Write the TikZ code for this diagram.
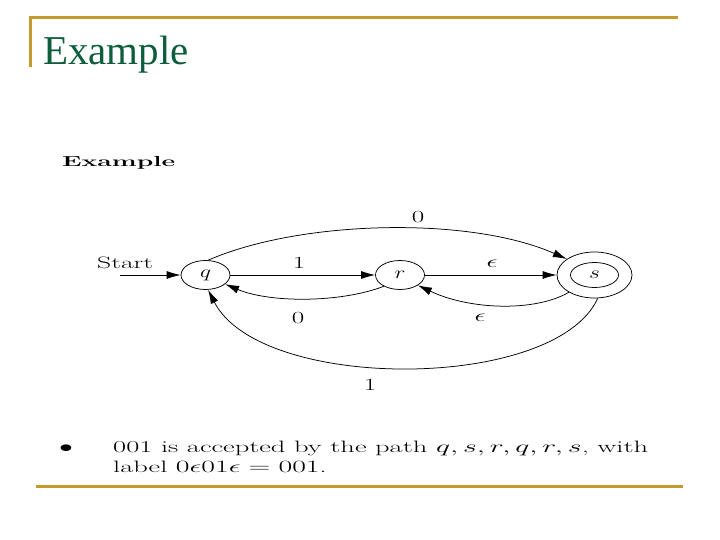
\documentclass[tikz,border=0pt]{standalone}
\usepackage{fontspec}
\usepackage{graphicx}
\newfontfamily\titlefont{Liberation Serif}
\usetikzlibrary{shapes.geometric,arrows.meta}
\definecolor{gold}{RGB}{195,154,43}
\definecolor{titlegreen}{RGB}{12,94,60}
\newcommand{\sx}[1]{\scalebox{1.6}[1]{#1}}
\newcommand{\sxn}[1]{\scalebox{1.35}[1]{#1}}
\tikzset{
  state/.style={ellipse, draw, line width=0.75pt, inner sep=0pt, minimum width=49pt, minimum height=29pt,
    font=\fontsize{17}{20}\selectfont},
  lbl/.style={inner sep=0pt, font=\fontsize{17}{20}\selectfont},
  edge/.style={line width=0.75pt, -{Latex[length=14pt,width=8pt]}},
  rule/.style={gold, line width=3pt}
}
\begin{document}
\begin{tikzpicture}[x=1pt,y=-1pt]
\useasboundingbox (0,0) rectangle (720,540);
% slide frame
\draw[rule] (30,67) -- (30,18) -- (678,18);
\draw[rule] (36,486) -- (683,486);
\node[anchor=base west, inner sep=0pt, text=titlegreen, font=\titlefont\fontsize{41}{48}\selectfont] (title) at (43,65) {Example};
% figure heading
\node[anchor=base west, inner sep=0pt] (ex2) at (62,167) {\resizebox{113pt}{\height}{\fontsize{14.5}{17}\selectfont\bfseries Example}};
% states
\node[state] (q) at (205.5,275) {\sxn{$q$}};
\node[state] (r) at (400,275) {\sxn{$r$}};
\node[state, minimum width=75pt, minimum height=46pt] (s) at (594.5,275) {};
\node[state, minimum width=48pt, minimum height=25pt] (sin) at (594.5,275) {\sxn{$s$}};
% start
\node[anchor=base west, inner sep=0pt] (start) at (97,268.5) {\resizebox{56pt}{\height}{\fontsize{16.5}{19}\selectfont Start}};
\coordinate (st) at (120,275);
\draw[edge] (st) -- (q);
% transitions
\draw[edge] (q) -- (r);
\draw[edge] (r) -- (s);
\draw[edge] (q.80) .. controls (300,220) and (470,216) .. (s.150);
\draw[edge] (r.215) .. controls (340,303) and (270,303) .. (q.335);
\draw[edge] (s.214) .. controls (535,312) and (470,310) .. (r.330);
\draw[edge] (s.278) .. controls (555,392) and (260,392) .. (q.280);
% labels
\node[lbl] (l1) at (299,263) {\sx{1}};
\node[lbl] (l2) at (492,264) {\sx{$\epsilon$}};
\node[lbl] (l3) at (418,217) {\sx{0}};
\node[lbl] (l4) at (298,318) {\sx{0}};
\node[lbl] (l5) at (480,318) {\sx{$\epsilon$}};
\node[lbl] (l6) at (370,385) {\sx{1}};
% bullet text
\node[anchor=base, inner sep=0pt] (bul) at (66,452) {\scalebox{1.6}[1]{\fontsize{16}{20}\selectfont$\bullet$}};
\node[anchor=base west, inner sep=0pt] (txt) at (113,452) {\resizebox{535pt}{\height}{\fontsize{16.5}{20}\selectfont\begin{tabular}[t]{@{}l@{}}001 is accepted by the path $q, s, r, q, r, s$, with\\ label $0\epsilon01\epsilon = 001$.\end{tabular}}};
\end{tikzpicture}
\end{document}
